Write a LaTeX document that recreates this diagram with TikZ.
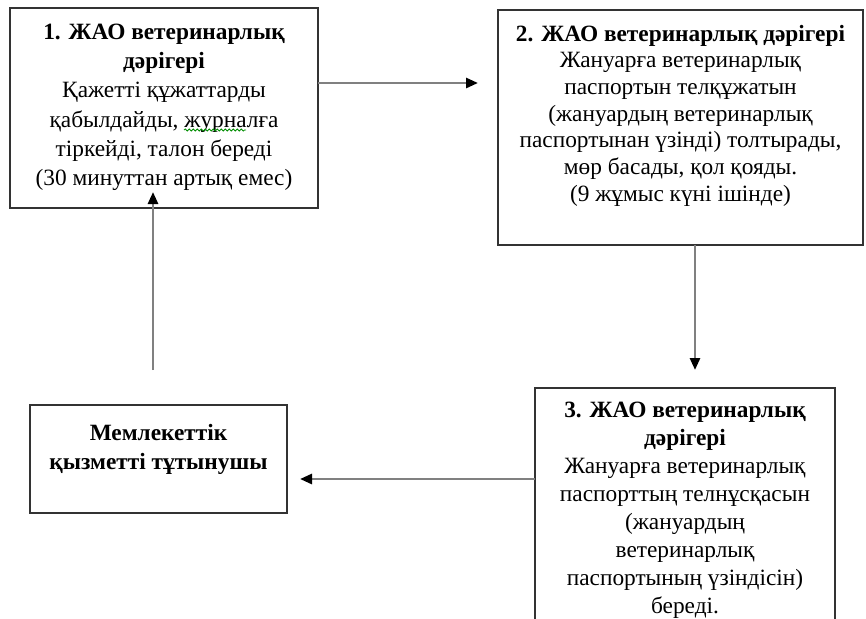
\documentclass[tikz,border=0pt]{standalone}
\usepackage{fontspec}
\setmainfont{Liberation Serif}
\usetikzlibrary{arrows.meta,decorations.pathmorphing}

\tikzset{
  stepbox/.style={draw=black!80, line width=1.2pt, rectangle, inner sep=0pt, outer sep=0pt},
  boxtext/.style={anchor=north, align=center, inner sep=0pt, font=\fontsize{17.5}{#1}\selectfont},
  boxtext/.default=21pt,
  flow/.style={draw=black!50, line width=2pt, -{Triangle[length=9pt,width=7.5pt,color=black]}},
  squiggle/.style={draw=green!55!black, line width=0.6pt, decorate, decoration={snake, amplitude=0.8pt, segment length=3pt}}
}

\begin{document}
\begin{tikzpicture}[x=0.75pt,y=0.75pt,yscale=-1,xscale=1]
\useasboundingbox (0,0) rectangle (866,618);
\clip (0,0) rectangle (866,618);

%Shape: Rectangle [step 1]
\node [stepbox, minimum width=231pt, minimum height=150pt] (b1) at (164,108) {};
%Shape: Rectangle [step 2]
\node [stepbox, minimum width=273.75pt, minimum height=176.25pt] (b2) at (680.5,127.5) {};
%Shape: Rectangle [step 3], runs off the bottom edge
\node [stepbox, minimum width=225pt, minimum height=196.5pt] (b3) at (685,519) {};
%Shape: Rectangle [consumer]
\node [stepbox, minimum width=192.75pt, minimum height=81pt] (b4) at (158.5,459) {};

% Text Node
\node [boxtext=22pt] (t1) at ([yshift=11.5pt]b1.north) {\textbf{1. ЖАО ветеринарлық}\\\textbf{дәрігері}\\Қажетті құжаттарды\\қабылдайды, журналға\\тіркейді, талон береді\\(30 минуттан артық емес)};
% Text Node
\node [boxtext=20pt] (t2) at ([yshift=11pt]b2.north) {\textbf{2. ЖАО ветеринарлық дәрігері}\\Жануарға ветеринарлық\\паспортын телқұжатын\\(жануардың ветеринарлық\\паспортынан үзінді) толтырады,\\мөр басады, қол қояды.\\(9 жұмыс күні ішінде)};
% Text Node
\node [boxtext] (t3) at ([yshift=10pt]b3.north) {\textbf{3. ЖАО ветеринарлық}\\\textbf{дәрігері}\\Жануарға ветеринарлық\\паспорттың телнұсқасын\\(жануардың\\ветеринарлық\\паспортының үзіндісін)\\береді.};
% Text Node
\node [boxtext=21.5pt] (t4) at ([yshift=14.5pt]b4.north) {\textbf{Мемлекеттік}\\\textbf{қызметті тұтынушы}};

%spell-check mark under the word in step 1
\draw [squiggle] (184,130) -- (246,130);

%Free ends of the connectors
\coordinate (e12) at (478,83);
\coordinate (e23) at (695,370);
\coordinate (e34) at (300,479);
\coordinate (s41) at (153,370);
\coordinate (e41) at (153,192);

%Straight Lines
\draw [flow] (b1.east |- e12) -- (e12);
\draw [flow] (b2.south -| e23) -- (e23);
\draw [flow] (b3.west |- e34) -- (e34);
\draw [flow] (s41) -- (e41);

\end{tikzpicture}
\end{document}
